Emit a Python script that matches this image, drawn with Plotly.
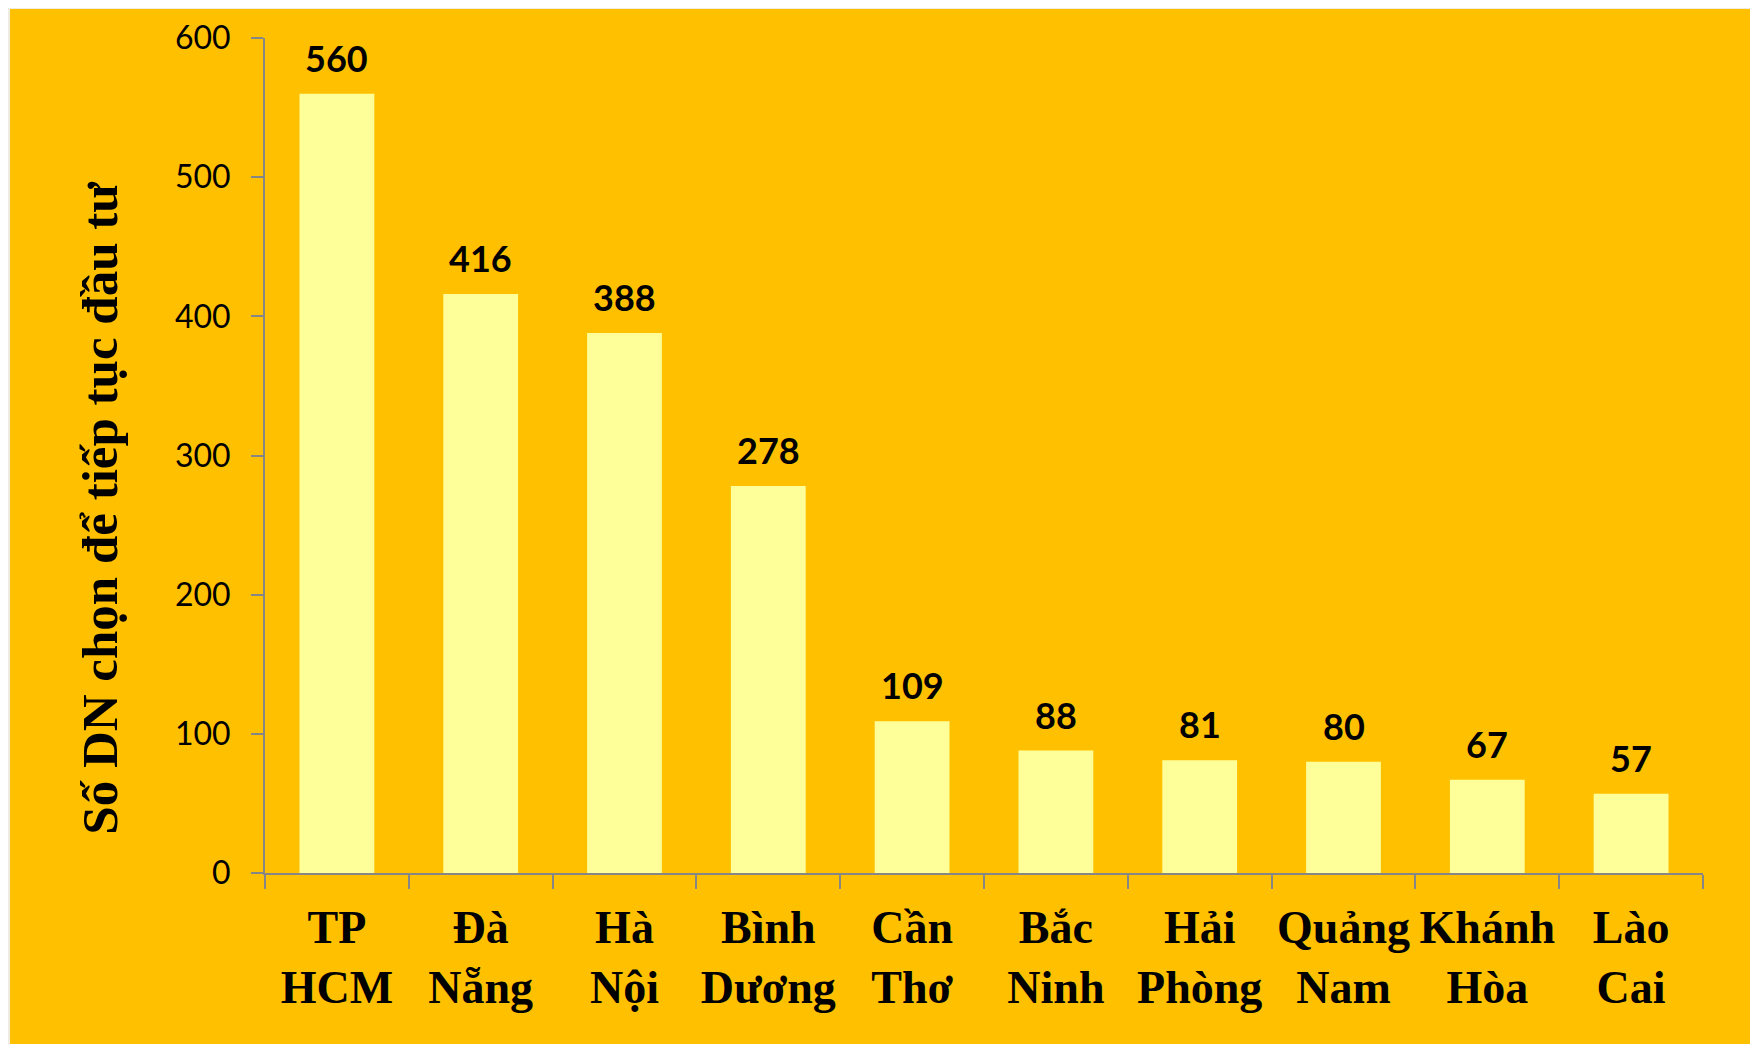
import plotly.graph_objects as go

provinces = ["TP<br>HCM", "Đà<br>Nẵng", "Hà<br>Nội", "Bình<br>Dương", "Cần<br>Thơ",
             "Bắc<br>Ninh", "Hải<br>Phòng", "Quảng<br>Nam", "Khánh<br>Hòa", "Lào<br>Cai"]
firms = [560, 416, 388, 278, 109, 88, 81, 80, 67, 57]
y_ticks = [0, 100, 200, 300, 400, 500, 600]

ORANGE = "#FFC000"
BAR = "#FFFF99"
AXIS = "#868686"
BORDER = "#EEECE1"

fig = go.Figure()
fig.add_trace(go.Bar(x=provinces, y=firms, marker_color=BAR, marker_line_width=0,
                     hoverinfo="skip"))

# value labels above the bars
for p, v in zip(provinces, firms):
    fig.add_annotation(x=p, y=v, text=str(v), showarrow=False, yanchor="bottom",
                       yshift=12, font=dict(family="Lato", size=36, color="black",
                                            weight="bold"))

fig.add_annotation(text="Số DN chọn để tiếp tục đầu tư", textangle=-90,
                   xref="paper", yref="paper", x=-0.115, y=0.437,
                   xanchor="center", yanchor="middle", showarrow=False,
                   font=dict(family="Liberation Serif", size=51, color="black",
                             weight="bold"))

# beige frame around the orange card (page body already adds 8px offset)
fig.add_shape(type="rect", xref="paper", yref="paper", x0=-0.1773, x1=1.2,
              y0=-0.4, y1=1.0347, fillcolor=ORANGE, line_width=0, layer="below")

fig.update_xaxes(showline=True, linecolor=AXIS, linewidth=2, ticks="outside",
                 tickson="boundaries", ticklen=14, tickcolor=AXIS, tickwidth=2,
                 tickangle=0,
                 tickfont=dict(family="Liberation Serif", size=46, color="black",
                               weight="bold"),
                 ticklabelstandoff=13, showgrid=False)
fig.update_yaxes(range=[0, 600], tickvals=y_ticks, showline=True, linecolor=AXIS,
                 linewidth=2, ticks="outside", ticklen=12, tickcolor=AXIS, tickwidth=2,
                 tickfont=dict(family="Lato", size=32, color="black"),
                 ticklabelstandoff=14, showgrid=False, zeroline=False)

fig.update_layout(width=1758, height=1044, bargap=0.48,
                  margin=dict(l=257, r=63, t=30, b=179, autoexpand=False),
                  paper_bgcolor=BORDER, plot_bgcolor="rgba(0,0,0,0)",
                  showlegend=False)

fig.write_html("out.html")
